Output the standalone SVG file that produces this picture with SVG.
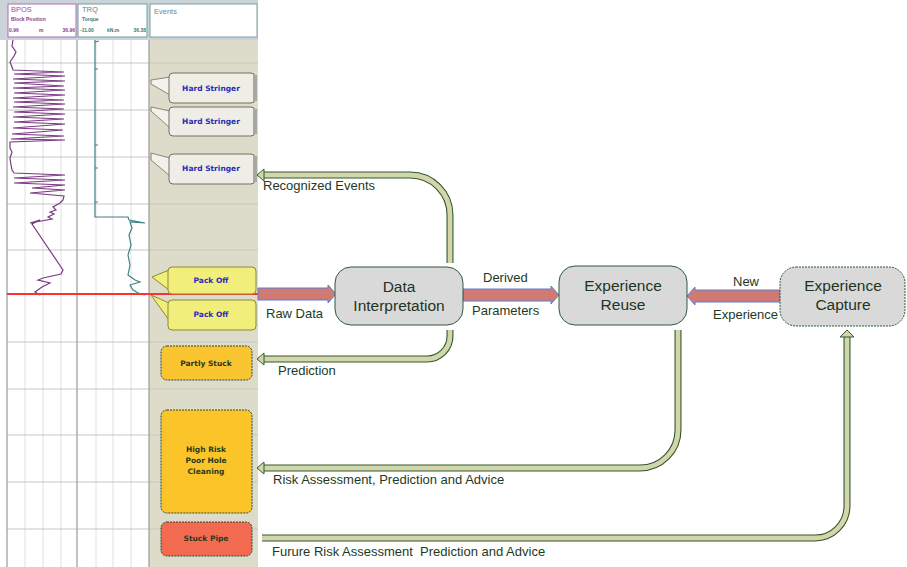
<svg xmlns="http://www.w3.org/2000/svg" width="907" height="567" viewBox="0 0 907 567">
<style>
.grid{stroke:#e0e0e0;stroke-width:1}
.gridd{stroke:#a0a0a0;stroke-width:1.3}
.hgrid{stroke:#c6c6c6;stroke-width:1.2}
.ev{font-family:"DejaVu Sans",sans-serif;font-size:7.5px;font-weight:bold;text-anchor:middle}
.hs{fill:#eeeee6;stroke:#707060;stroke-width:1}
.po{fill:#f1ee7c;stroke:#8a8a30;stroke-width:1}
.st{stroke:#2d4a2d;stroke-width:1;stroke-dasharray:2 1}
.node{fill:#d9d9d9;stroke:#2d5a3c;stroke-width:1}
.nt{font-family:"Liberation Sans",sans-serif;font-size:15.5px;fill:#1e3424;text-anchor:middle}
.lb{font-family:"Liberation Sans",sans-serif;font-size:13px;fill:#1e3a24}
.big{fill:#cf7a72;stroke:#5a7fd0;stroke-width:1}
.po1{fill:none;stroke:#2d5a2d;stroke-width:7}
.po2{fill:none;stroke:#d5d5ab;stroke-width:4.8}
.ah{fill:#d5d5ab;stroke:#2d5a2d;stroke-width:1}
.hd{font-family:"Liberation Sans",sans-serif}
</style>
<rect width="907" height="567" fill="#ffffff"/>
<g id="log">
<rect x="0" y="0" width="258" height="40" fill="#c9d3d9"/>
<rect x="0" y="40" width="150" height="527" fill="#ffffff"/>
<rect x="149" y="40" width="109" height="527" fill="#dddccb"/>
<g>
<line class="grid" x1="25" y1="40" x2="25" y2="567"/>
<line class="grid" x1="43" y1="40" x2="43" y2="567"/>
<line class="grid" x1="61" y1="40" x2="61" y2="567"/>
<line class="grid" x1="96" y1="40" x2="96" y2="567"/>
<line class="grid" x1="113" y1="40" x2="113" y2="567"/>
<line class="grid" x1="131" y1="40" x2="131" y2="567"/>
<line class="hgrid" x1="7" y1="63" x2="258" y2="63"/>
<line class="hgrid" x1="7" y1="110" x2="258" y2="110"/>
<line class="hgrid" x1="7" y1="157" x2="258" y2="157"/>
<line class="hgrid" x1="7" y1="204" x2="258" y2="204"/>
<line class="hgrid" x1="7" y1="250" x2="258" y2="250"/>
<line class="hgrid" x1="7" y1="342" x2="258" y2="342"/>
<line class="hgrid" x1="7" y1="389" x2="258" y2="389"/>
<line class="hgrid" x1="7" y1="435" x2="258" y2="435"/>
<line class="hgrid" x1="7" y1="482" x2="258" y2="482"/>
<line class="hgrid" x1="7" y1="529" x2="258" y2="529"/>
<line class="gridd" x1="7" y1="40" x2="7" y2="567"/>
<line class="gridd" x1="77" y1="40" x2="77" y2="567"/>
<line class="gridd" x1="149" y1="40" x2="149" y2="567"/>
</g>
<rect x="8" y="4" width="68" height="33" fill="#ffffff" stroke="#b070b0" stroke-width="1"/>
<rect x="78" y="4" width="69" height="33" fill="#ffffff" stroke="#70a0a0" stroke-width="1"/>
<rect x="150" y="4" width="107" height="33" fill="#ffffff" stroke="#80a0a0" stroke-width="1"/>
<text class="hd" x="11" y="12" font-size="7.5" fill="#a050a0">BPOS</text>
<text class="hd" x="11" y="21" font-size="5" font-weight="bold" fill="#8a408a">Block Position</text>
<text class="hd" x="9" y="32" font-size="5" font-weight="bold" fill="#8a408a">0.96</text>
<text class="hd" x="39" y="32" font-size="5" font-weight="bold" fill="#8a408a">m</text>
<text class="hd" x="75" y="32" font-size="5" font-weight="bold" fill="#8a408a" text-anchor="end">36.96</text>
<text class="hd" x="82" y="12" font-size="7.5" fill="#4a9090">TRQ</text>
<text class="hd" x="82" y="21" font-size="5" font-weight="bold" fill="#3a7a7a">Torque</text>
<text class="hd" x="80" y="32" font-size="5" font-weight="bold" fill="#3a7a7a">-11.00</text>
<text class="hd" x="107" y="32" font-size="5" font-weight="bold" fill="#3a7a7a">kN.m</text>
<text class="hd" x="146" y="32" font-size="5" font-weight="bold" fill="#3a7a7a" text-anchor="end">36.38</text>
<text class="hd" x="154" y="14" font-size="7.5" fill="#708888">Events</text>
<polyline fill="none" stroke="#7a3a82" stroke-width="1.2" points="13,40 12,46 16,52 14,56 10,62 12,67 13,70 64,72 14,74 65,76 13,79 65,81 14,83 64,86 13,88 65,90 14,93 65,95 13,98 64,100 14,102 65,104 13,107 64,109 14,112 65,114 13,117 64,119 14,122 65,124 13,128 63,130 12,134 64,136 11,139 65,140 10,142 10,148 12,152 10,158 11,165 12,170 14,173 65,175 14,178 65,180 14,183 65,185 32,188 65,190 30,193 64,196 63,200 60,203 53,207 56,210 50,212 54,214 48,217 52,219 30,223 40,220 32,224 63,270 61,274 43,278 38,280 50,283 42,287 35,292 40,295"/>
<polyline fill="none" stroke="#3f8282" stroke-width="1.2" points="95,40 95,217 128,217 129,220 145,223 130,222 132,228 129,235 131,245 128,255 130,265 128,275 135,280 140,282 130,285 133,290 140,294 145,295"/>
<path d="M95 42 L99 41 M95 69 L98 69 M95 145 L98 145 M95 168 L98 168 M95 202 L98 202" stroke="#3f8282" stroke-width="1.2"/>
<line x1="7" y1="294" x2="258" y2="294" stroke="#ff3030" stroke-width="2"/>
</g>
<g id="hard-stringer-1">
<polygon points="151,80 170,77 170,95 151,84" fill="#f2f1ea" stroke="#707060" stroke-width="0.8"/>
<rect class="hs" x="169" y="73" width="86" height="30" rx="4"/>
<rect x="253" y="75" width="4" height="26" fill="#a8a8a0"/>
<text class="ev" x="211" y="91" fill="#2a2ab8">Hard Stringer</text>
</g>
<g id="hard-stringer-2">
<polygon points="151,107 170,111 170,128 151,111" fill="#f2f1ea" stroke="#707060" stroke-width="0.8"/>
<rect class="hs" x="169" y="107" width="86" height="29" rx="4"/>
<rect x="253" y="109" width="4" height="25" fill="#a8a8a0"/>
<text class="ev" x="211" y="124" fill="#2a2ab8">Hard Stringer</text>
</g>
<g id="hard-stringer-3">
<polygon points="151,153 170,158 170,176 151,160" fill="#f2f1ea" stroke="#707060" stroke-width="0.8"/>
<rect class="hs" x="169" y="154" width="86" height="30" rx="4"/>
<rect x="253" y="156" width="4" height="26" fill="#a8a8a0"/>
<text class="ev" x="211" y="171" fill="#2a2ab8">Hard Stringer</text>
</g>
<g id="pack-off-1">
<polygon points="152,277 169,270 169,290" class="po"/>
<rect class="po" x="168" y="267" width="88" height="27" rx="4"/>
<text class="ev" x="211" y="283" fill="#2a2ab8">Pack Off</text>
</g>
<g id="pack-off-2">
<polygon points="151,295 169,303 169,320" class="po"/>
<rect class="po" x="168" y="300" width="88" height="30" rx="4"/>
<text class="ev" x="211" y="317" fill="#2a2ab8">Pack Off</text>
</g>
<g id="partly-stuck">
<rect class="st" x="161" y="346" width="91" height="34" rx="6" fill="#fbc531"/>
<text class="ev" x="206" y="366" fill="#2a3a20">Partly Stuck</text>
</g>
<g id="high-risk">
<rect class="st" x="161" y="410" width="91" height="103" rx="6" fill="#fbc52a"/>
<text class="ev" x="206" y="452" fill="#2a3a20">High Risk</text>
<text class="ev" x="206" y="463" fill="#2a3a20">Poor Hole</text>
<text class="ev" x="206" y="474" fill="#2a3a20">Cleaning</text>
</g>
<g id="stuck-pipe">
<rect class="st" x="161" y="522" width="91" height="34" rx="6" fill="#f26b50"/>
<text class="ev" x="206" y="541" fill="#2a3a20">Stuck Pipe</text>
</g>
<g id="connectors">
<polygon class="big" points="258,288 328,288 328,285 336,294 328,303 328,300 258,300"/>
<polygon class="big" points="463,289 551,289 551,286 559,295 551,304 551,301 463,301"/>
<polygon class="big" points="780,290 695,290 695,287 687,296 695,305 695,302 780,302"/>
<path class="po1" d="M450 263 V215 A40 40 0 0 0 410 175 H263"/>
<path class="po2" d="M450 263 V215 A40 40 0 0 0 410 175 H263"/>
<polygon class="ah" points="257,175 264,169 264,181"/>
<path class="po1" d="M450 330 V336 A23 23 0 0 1 427 359 H263"/>
<path class="po2" d="M450 330 V336 A23 23 0 0 1 427 359 H263"/>
<polygon class="ah" points="257,359 264,353 264,365"/>
<path class="po1" d="M678 330 V430 A38 38 0 0 1 640 468 H263"/>
<path class="po2" d="M678 330 V430 A38 38 0 0 1 640 468 H263"/>
<polygon class="ah" points="257,468 264,462 264,474"/>
<path class="po1" d="M262 538 H815 A32 32 0 0 0 847 506 V337"/>
<path class="po2" d="M262 538 H815 A32 32 0 0 0 847 506 V337"/>
<polygon class="ah" points="847,330 840,337 854,337"/>
<text class="lb" x="263" y="190">Recognized Events</text>
<text class="lb" x="266" y="318">Raw Data</text>
<text class="lb" x="278" y="375">Prediction</text>
<text class="lb" x="483" y="282">Derived</text>
<text class="lb" x="472" y="315">Parameters</text>
<text class="lb" x="733" y="286">New</text>
<text class="lb" x="713" y="319">Experience</text>
<text class="lb" x="273" y="484">Risk Assessment, Prediction and Advice</text>
<text class="lb" x="272" y="556" xml:space="preserve">Furure Risk Assessment  Prediction and Advice</text>
</g>
<g id="data-interpretation">
<rect class="node" x="335" y="267" width="128" height="58" rx="16"/>
<text class="nt" x="399" y="292">Data</text>
<text class="nt" x="399" y="311">Interpretation</text>
</g>
<g id="experience-reuse">
<rect class="node" x="559" y="266" width="128" height="59" rx="16"/>
<text class="nt" x="623" y="291">Experience</text>
<text class="nt" x="623" y="310">Reuse</text>
</g>
<g id="experience-capture">
<rect class="node" x="780" y="267" width="125" height="59" rx="16" stroke-dasharray="2 1"/>
<text class="nt" x="843" y="291">Experience</text>
<text class="nt" x="843" y="310">Capture</text>
</g>
</svg>
